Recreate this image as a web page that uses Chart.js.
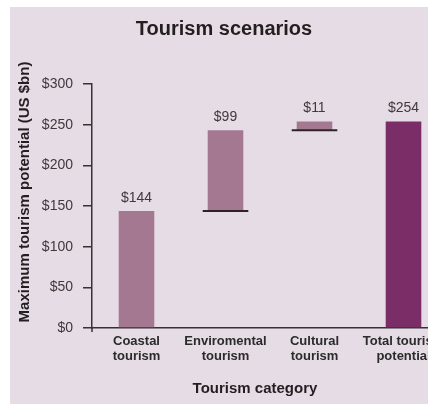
<!DOCTYPE html>
<html>
<head>
<meta charset="utf-8">
<title>Tourism scenarios</title>
<script src="https://cdn.jsdelivr.net/npm/chart.js@4/dist/chart.umd.min.js"></script>
<style>
  html, body { margin: 0; padding: 0; background: #ffffff; }
  .wrap { width: 428px; height: 404px; overflow: hidden; position: relative; }
  .box { width: 448px; height: 404px; position: absolute; left: 0; top: 0; }
</style>
</head>
<body>
<div class="wrap">
  <div class="box"><canvas id="tourismChart"></canvas></div>
</div>
<script>
// data
const categories = [
  ['Coastal', 'tourism'],
  ['Enviromental', 'tourism'],
  ['Cultural', 'tourism'],
  ['Total tourism', 'potential']
];
const barStarts = [0, 144, 243, 0];
const barValues = [144, 99, 11, 254];
const yTicks = [0, 50, 100, 150, 200, 250, 300];

const FONT = '"Liberation Sans", Arial, sans-serif';
const barColors = ['#a57892', '#a57892', '#a57892', '#7b2d67'];

// floating bars [start, end] for the waterfall
const barData = barStarts.map(function (s, i) { return [s, s + barValues[i]]; });

const decor = {
  id: 'decor',
  beforeDraw(chart) {
    const ctx = chart.ctx;
    ctx.save();
    ctx.fillStyle = '#e6dce5';
    ctx.fillRect(10, 7, chart.width, chart.height);
    ctx.restore();
  },
  afterDatasetsDraw(chart) {
    const ctx = chart.ctx;
    const meta = chart.getDatasetMeta(0);
    ctx.save();
    meta.data.forEach(function (bar, i) {
      // dark base line under floating bars
      if (barStarts[i] > 0) {
        ctx.strokeStyle = '#2b2529';
        ctx.lineWidth = 2;
        ctx.beginPath();
        ctx.moveTo(bar.x - bar.width / 2 - 5, bar.base);
        ctx.lineTo(bar.x + bar.width / 2 + 5, bar.base);
        ctx.stroke();
      }
      ctx.fillStyle = '#3d3a3c';
      ctx.font = '14px ' + FONT;
      ctx.textAlign = 'center';
      ctx.textBaseline = 'alphabetic';
      ctx.fillText('$' + barValues[i], bar.x, bar.y - 9);
    });

    // y axis runs a little past the x axis
    const ya = chart.scales.y;
    ctx.strokeStyle = '#333333';
    ctx.lineWidth = 1.5;
    ctx.beginPath();
    ctx.moveTo(ya.right, chart.chartArea.bottom);
    ctx.lineTo(ya.right, chart.chartArea.bottom + 4);
    ctx.stroke();

    // axis titles
    ctx.fillStyle = '#231f20';
    ctx.font = 'bold 15px ' + FONT;
    ctx.textAlign = 'center';
    ctx.fillText('Tourism category', 255, 393);
    ctx.translate(29, 192);
    ctx.rotate(-Math.PI / 2);
    ctx.fillText('Maximum tourism potential (US $bn)', 0, 0);
    ctx.restore();
  }
};

new Chart(document.getElementById('tourismChart'), {
  type: 'bar',
  data: {
    labels: categories,
    datasets: [{
      data: barData,
      backgroundColor: barColors,
      borderWidth: 0,
      categoryPercentage: 1,
      barPercentage: 0.4
    }]
  },
  options: {
    responsive: true,
    maintainAspectRatio: false,
    animation: false,
    layout: { padding: 0 },
    plugins: {
      legend: { display: false },
      tooltip: { enabled: false },
      title: {
        display: true,
        text: 'Tourism scenarios',
        color: '#231f20',
        font: { family: FONT, size: 20, weight: 'bold' },
        padding: { top: 17, bottom: 43 }
      }
    },
    scales: {
      x: {
        grid: { display: false },
        border: { display: true, color: '#333333', width: 1.5 },
        ticks: {
          color: '#2b2b2b',
          padding: -3,
          maxRotation: 0,
          autoSkip: false,
          font: { family: FONT, size: 13, weight: 'bold', lineHeight: 1.22 }
        },
        afterFit(scale) { scale.height = 76; }
      },
      y: {
        min: yTicks[0],
        max: yTicks[yTicks.length - 1],
        grid: { drawOnChartArea: false, drawTicks: true, tickLength: 9, color: '#333333', lineWidth: 1.5 },
        border: { display: true, color: '#333333', width: 1.5 },
        afterBuildTicks(scale) { scale.ticks = yTicks.map(function (v) { return { value: v }; }); },
        ticks: {
          color: '#3d3a3c',
          padding: 10,
          font: { family: FONT, size: 14 },
          callback: function (v) { return '$' + v; }
        },
        afterFit(scale) { scale.width = 92; }
      }
    }
  },
  plugins: [decor]
});
</script>
</body>
</html>
